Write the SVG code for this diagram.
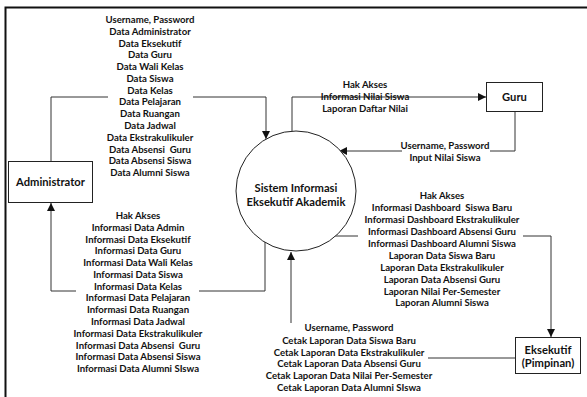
<svg xmlns="http://www.w3.org/2000/svg" width="587" height="397" viewBox="0 0 587 397">
<style>
.t{font-family:Lato,"Liberation Sans",sans-serif;font-weight:bold;font-size:9.6px;fill:#111;text-anchor:middle}
.n{font-family:Lato,"Liberation Sans",sans-serif;font-weight:bold;font-size:11.2px;fill:#111;text-anchor:middle}
.box{fill:#fff;stroke:#222;stroke-width:1}
.c{fill:none;stroke:#333;stroke-width:1}
</style>
<defs>
<marker id="ar" markerUnits="userSpaceOnUse" markerWidth="10" markerHeight="8" refX="8" refY="4" orient="auto">
<path d="M0,0 L8,4 L0,8 Z" fill="#111"/>
</marker>
</defs>
<rect width="587" height="397" fill="#fff"/>
<path d="M5.5,397 V7.5 H587" fill="none" stroke="#111" stroke-width="2"/>

<g id="connectors">
<!-- Admin -> System -->
<path class="c" d="M51,161 V97 H108"/>
<path class="c" d="M193,97 H266 V139" marker-end="url(#ar)"/>
<!-- System -> Admin -->
<path class="c" d="M265,242 V291 H199"/>
<path class="c" d="M76,291 H51 V203" marker-end="url(#ar)"/>
<!-- System -> Guru -->
<path class="c" d="M292,131 V97 H486" marker-end="url(#ar)"/>
<!-- Guru -> System -->
<path class="c" d="M515,111 V151 H490"/>
<path class="c" d="M402,151 H339" marker-end="url(#ar)"/>
<!-- System -> Eksekutif -->
<path class="c" d="M335,236 H358"/>
<path class="c" d="M523,236 H551 V337" marker-end="url(#ar)"/>
<!-- Eksekutif -> System -->
<path class="c" d="M515,358 H428"/>
<path class="c" d="M291,323 V252" marker-end="url(#ar)"/>
</g>

<g id="admin-in-labels">
<text class="t" x="150" y="23">Username, Password</text>
<text class="t" x="150" y="34.8">Data Administrator</text>
<text class="t" x="150" y="46.5">Data Eksekutif</text>
<text class="t" x="150" y="58.3">Data Guru</text>
<text class="t" x="150" y="70.1">Data Wali Kelas</text>
<text class="t" x="150" y="81.9">Data Siswa</text>
<text class="t" x="150" y="93.6">Data Kelas</text>
<text class="t" x="150" y="105.4">Data Pelajaran</text>
<text class="t" x="150" y="117.2">Data Ruangan</text>
<text class="t" x="150" y="128.9">Data Jadwal</text>
<text class="t" x="150" y="140.7">Data Ekstrakulikuler</text>
<text class="t" x="150" y="152.5" xml:space="preserve">Data Absensi  Guru</text>
<text class="t" x="150" y="164.2">Data Absensi Siswa</text>
<text class="t" x="150" y="176">Data Alumni Siswa</text>
</g>

<g id="admin-out-labels">
<text class="t" x="138" y="219">Hak Akses</text>
<text class="t" x="138" y="230.8">Informasi Data Admin</text>
<text class="t" x="138" y="242.5">Informasi Data Eksekutif</text>
<text class="t" x="138" y="254.3">Informasi Data Guru</text>
<text class="t" x="138" y="266.1">Informasi Data Wali Kelas</text>
<text class="t" x="138" y="277.9">Informasi Data Siswa</text>
<text class="t" x="138" y="289.6">Informasi Data Kelas</text>
<text class="t" x="138" y="301.4">Informasi Data Pelajaran</text>
<text class="t" x="138" y="313.2">Informasi Data Ruangan</text>
<text class="t" x="138" y="324.9">Informasi Data Jadwal</text>
<text class="t" x="138" y="336.7">Informasi Data Ekstrakulikuler</text>
<text class="t" x="138" y="348.5" xml:space="preserve">Informasi Data Absensi  Guru</text>
<text class="t" x="138" y="360.2">Informasi Data Absensi Siswa</text>
<text class="t" x="138" y="372">Informasi Data Alumni SIswa</text>
</g>

<g id="guru-labels">
<text class="t" x="365" y="88">Hak Akses</text>
<text class="t" x="365" y="100">Informasi Nilai Siswa</text>
<text class="t" x="365" y="112">Laporan Daftar Nilai</text>
<text class="t" x="445" y="149">Username, Password</text>
<text class="t" x="445" y="161">Input Nilai Siswa</text>
</g>

<g id="eks-out-labels">
<text class="t" x="442" y="199">Hak Akses</text>
<text class="t" x="442" y="211" xml:space="preserve">Informasi Dashboard  Siswa Baru</text>
<text class="t" x="442" y="223">Informasi Dashboard Ekstrakulikuler</text>
<text class="t" x="442" y="235">Informasi Dashboard Absensi Guru</text>
<text class="t" x="442" y="247">Informasi Dashboard Alumni Siswa</text>
<text class="t" x="442" y="259">Laporan Data Siswa Baru</text>
<text class="t" x="442" y="271">Laporan Data Ekstrakulikuler</text>
<text class="t" x="442" y="283">Laporan Data Absensi Guru</text>
<text class="t" x="442" y="295">Laporan Nilai Per-Semester</text>
<text class="t" x="442" y="306">Laporan Alumni Siswa</text>
</g>

<g id="eks-in-labels">
<text class="t" x="349" y="331">Username, Password</text>
<text class="t" x="349" y="343.8">Cetak Laporan Data Siswa Baru</text>
<text class="t" x="349" y="355.6">Cetak Laporan Data Ekstrakulikuler</text>
<text class="t" x="349" y="367.4">Cetak Laporan Data Absensi Guru</text>
<text class="t" x="349" y="379.2">Cetak Laporan Data Nilai Per-Semester</text>
<text class="t" x="349" y="391">Cetak Laporan Data Alumni SIswa</text>
</g>

<g id="administrator">
<rect class="box" x="8.5" y="161.5" width="84" height="41"/>
<text class="n" x="50.5" y="186">Administrator</text>
</g>

<g id="sistem">
<circle cx="296" cy="191" r="60" fill="#fff" stroke="#222" stroke-width="1"/>
<text class="n" x="296" y="192">Sistem Informasi</text>
<text class="n" x="296" y="206">Eksekutif Akademik</text>
</g>

<g id="guru">
<rect class="box" x="486.5" y="82.5" width="56" height="29"/>
<text class="n" x="514.5" y="101">Guru</text>
</g>

<g id="eksekutif">
<rect class="box" x="515.5" y="337.5" width="65" height="36"/>
<text class="n" x="548" y="354">Eksekutif</text>
<text class="n" x="548" y="367">(Pimpinan)</text>
</g>
</svg>
